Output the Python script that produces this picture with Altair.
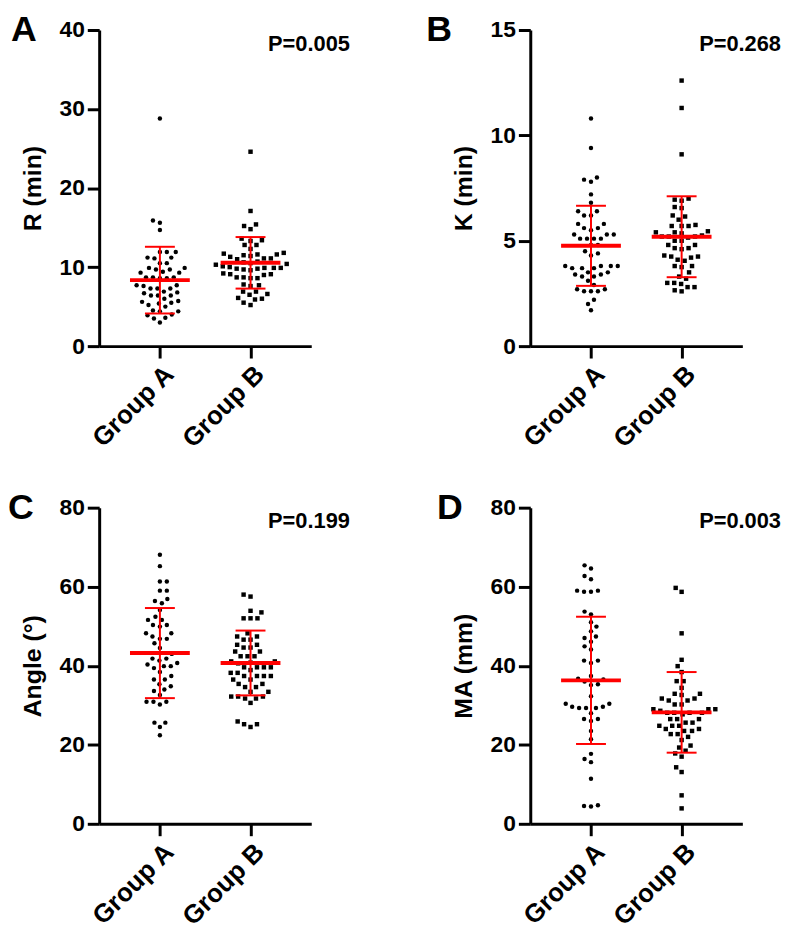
import altair as alt
import pandas as pd

# ---------------- data ----------------
groups = ["Group A", "Group B"]
panel_letters = ["A", "B", "C", "D"]
y_titles = ["R (min)", "K (min)", "Angle (°)", "MA (mm)"]
y_max = [40, 15, 80, 80]
y_ticks = [[0, 10, 20, 30, 40], [0, 5, 10, 15], [0, 20, 40, 60, 80], [0, 20, 40, 60, 80]]
p_values = ["P=0.005", "P=0.268", "P=0.199", "P=0.003"]
means = [[8.35, 10.54], [4.76, 5.19], [43.2, 40.7], [36.3, 28.2]]
sds = [[4.22, 3.26], [1.90, 1.92], [11.4, 8.2], [16.1, 10.2]]

r_a = [28.8, 15.9, 15.6, 14.7, 11.9, 11.9, 11.9, 11.2, 11.2, 11.1, 10.5, 10.5, 9.9, 9.9, 9.7, 9.7,
       9.4, 9.3, 9.3, 8.7, 8.7, 8.7, 8.6, 8.6, 7.7, 7.7, 7.6, 7.3, 7.3, 7.3, 6.9, 6.8, 6.7, 6.4,
       6.4, 6.4, 6.0, 5.7, 5.6, 5.5, 5.4, 5.2, 5.0, 4.5, 4.4, 4.4, 4.0, 3.9, 3.6, 3.5, 3.0]
r_b = [24.6, 17.1, 15.4, 15.2, 14.8, 13.6, 13.4, 13.3, 12.8, 12.8, 12.3, 11.8, 11.7, 11.6, 11.6,
       11.5, 11.4, 11.3, 11.1, 11.1, 11.0, 10.7, 10.6, 10.5, 10.4, 10.3, 10.1, 10.0, 9.9, 9.9, 9.9,
       9.8, 9.8, 9.7, 9.6, 9.2, 9.1, 9.1, 9.0, 8.7, 8.7, 8.6, 8.6, 7.8, 7.7, 7.6, 6.9, 6.9, 6.6,
       6.5, 6.1, 6.0, 5.9, 5.5, 5.2]
k_a = [10.8, 9.4, 8.0, 7.9, 7.8, 7.2, 6.8, 6.4, 6.4, 6.2, 6.2, 5.8, 5.8, 5.6, 5.5, 5.6, 5.3, 5.3,
       5.3, 5.1, 5.1, 5.1, 5.1, 4.8, 4.8, 4.5, 4.4, 4.3, 3.8, 3.8, 3.8, 3.8, 3.7, 3.7, 3.7, 3.5,
       3.5, 3.4, 3.4, 3.3, 3.3, 3.1, 2.9, 2.7, 2.7, 2.6, 2.6, 2.6, 2.2, 2.0, 1.7]
k_b = [12.6, 11.3, 9.1, 7.0, 6.95, 6.9, 6.6, 6.55, 6.2, 6.15, 6.0, 5.75, 5.7, 5.7, 5.7, 5.45, 5.4,
       5.4, 5.35, 5.25, 5.2, 5.2, 5.2, 5.15, 5.0, 5.0, 4.8, 4.8, 4.65, 4.65, 4.6, 4.3, 4.25, 4.25,
       4.2, 4.1, 4.05, 3.8, 3.8, 3.75, 3.5, 3.3, 3.2, 3.0, 3.0, 2.95, 2.8, 2.8, 2.65, 2.6]
ang_a = [68.1, 65.2, 61.3, 61.3, 59.0, 59.0, 56.9, 56.4, 55.8, 54.1, 52.4, 51.6, 51.6, 50.3, 50.3,
         49.9, 48.2, 48.2, 47.4, 46.8, 46.8, 45.7, 44.5, 43.0, 41.8, 41.8, 41.3, 40.7, 40.3, 39.9,
         39.9, 39.4, 38.4, 37.4, 36.5, 36.5, 35.3, 34.8, 34.0, 33.6, 32.6, 30.9, 30.9, 30.9, 30.2,
         25.6, 25.6, 24.5, 22.4]
ang_b = [58.0, 57.5, 53.9, 53.5, 52.0, 52.0, 52.0, 48.2, 47.4, 47.4, 46.6, 46.6, 45.3, 45.3, 44.6,
         44.6, 43.6, 43.6, 42.4, 42.4, 42.4, 41.1, 41.1, 40.6, 40.8, 39.6, 39.6, 39.6, 39.6, 38.9,
         38.2, 38.2, 37.4, 37.4, 37.4, 37.4, 36.5, 36.5, 35.4, 35.4, 34.6, 34.6, 33.4, 33.4, 32.2,
         32.2, 32.2, 31.7, 31.7, 30.6, 25.9, 25.2, 25.2, 24.5]
ma_a = [65.4, 64.6, 62.7, 61.9, 59.0, 59.0, 58.7, 58.7, 53.7, 53.0, 51.0, 49.9, 48.7, 47.4, 47.0,
        46.1, 44.9, 44.1, 41.3, 41.3, 40.7, 37.4, 36.7, 36.5, 36.0, 35.3, 35.1, 32.3, 30.4, 30.4,
        29.6, 29.6, 29.3, 29.3, 29.3, 28.0, 26.5, 26.5, 26.0, 23.5, 21.4, 17.7, 16.4, 15.6, 11.4,
        4.7, 4.5, 4.4]
ma_b = [59.7, 58.7, 48.2, 41.5, 39.9, 38.4, 36.1, 36.1, 34.4, 32.9, 32.9, 32.6, 31.7, 31.7, 31.2,
        31.2, 30.2, 30.2, 29.0, 29.0, 29.0, 28.6, 28.1, 28.1, 28.1, 28.1, 27.7, 26.5, 26.5, 26.5,
        25.6, 25.6, 24.8, 24.8, 24.8, 24.0, 24.0, 23.5, 23.5, 22.7, 22.7, 22.0, 21.2, 19.8, 19.3,
        18.5, 17.8, 17.0, 14.3, 13.1, 7.2, 3.9]

panel_data = [(r_a, r_b), (k_a, k_b), (ang_a, ang_b), (ma_a, ma_b)]

# ---------------- layout parameters ----------------
W, H = 214, 319
X_DOMAIN = [0.33, 2.67]
XPPU = W / (X_DOMAIN[1] - X_DOMAIN[0])   # pixels per x unit
FONT = "Liberation Sans"
letter_dx = [-89, -105, -92, -94]


def swarm(vals, ypp, dist=7.0, step=0.5):
    """Deterministic beeswarm layout: horizontal pixel offsets so dots don't overlap."""
    order = sorted(range(len(vals)), key=lambda i: vals[i])
    placed = []
    offs = [0.0] * len(vals)
    for n, i in enumerate(order):
        y = vals[i] * ypp
        k = 0
        chosen = 0.0
        while True:
            cands = [0.0] if k == 0 else ([k * step, -k * step] if n % 2 == 0 else [-k * step, k * step])
            ok = None
            for c in cands:
                if all((px - c) ** 2 + (py - y) ** 2 >= dist ** 2 for px, py in placed):
                    ok = c
                    break
            if ok is not None:
                chosen = ok
                break
            k += 1
        placed.append((chosen, y))
        offs[i] = chosen
    return offs


def panel(i):
    va, vb = panel_data[i]
    ypp = H / y_max[i]
    rows = []
    for g, vals in enumerate([va, vb]):
        for v, o in zip(vals, swarm(vals, ypp)):
            rows.append({"group": groups[g], "value": v, "xpos": g + 1 + o / XPPU})
    pts = pd.DataFrame(rows)
    st = pd.DataFrame({"group": groups, "xc": [1.0, 2.0], "mean": means[i], "sd": sds[i]})
    st["lo"] = st["mean"] - st["sd"]
    st["hi"] = st["mean"] + st["sd"]
    st["m1"] = st["xc"] - 0.33
    st["m2"] = st["xc"] + 0.33
    st["c1"] = st["xc"] - 0.165
    st["c2"] = st["xc"] + 0.165

    xs = alt.Scale(domain=X_DOMAIN, nice=False, zero=False)
    ys = alt.Scale(domain=[0, y_max[i]], nice=False)
    xax = alt.Axis(values=[1, 2], labelExpr="datum.value == 1 ? 'Group A' : 'Group B'",
                   labelAngle=-45, labelAlign="right", labelBaseline="top",
                   labelFontSize=26, labelPadding=3)
    yax = alt.Axis(values=y_ticks[i], titlePadding=14)

    def X(f):
        return alt.X(f, scale=xs, axis=xax, title=None)

    def Y(f):
        return alt.Y(f, scale=ys, axis=yax, title=y_titles[i])

    points = alt.Chart(pts).mark_point(filled=True, size=20, color="black", opacity=1).encode(
        x=X("xpos:Q"), y=Y("value:Q"),
        shape=alt.Shape("group:N", scale=alt.Scale(domain=groups, range=["circle", "square"]), legend=None),
    )
    sdline = alt.Chart(st).mark_rule(color="#ff0000", strokeWidth=2).encode(
        x=X("xc:Q"), y=Y("lo:Q"), y2="hi:Q")
    cap_lo = alt.Chart(st).mark_rule(color="#ff0000", strokeWidth=2).encode(
        x=X("c1:Q"), x2="c2:Q", y=Y("lo:Q"))
    cap_hi = alt.Chart(st).mark_rule(color="#ff0000", strokeWidth=2).encode(
        x=X("c1:Q"), x2="c2:Q", y=Y("hi:Q"))
    mline = alt.Chart(st).mark_rule(color="#ff0000", strokeWidth=4).encode(
        x=X("m1:Q"), x2="m2:Q", y=Y("mean:Q"))
    ptxt = alt.Chart(pd.DataFrame({"t": [p_values[i]]})).mark_text(
        align="right", baseline="alphabetic", fontSize=22, fontWeight="bold", font=FONT, color="black"
    ).encode(text="t:N", x=alt.value(253), y=alt.value(21))
    letter = alt.Chart(pd.DataFrame({"t": [panel_letters[i]]})).mark_text(
        align="left", baseline="top", fontSize=36, fontWeight="bold", font=FONT, color="black"
    ).encode(text="t:N", x=alt.value(letter_dx[i]), y=alt.value(-17))
    return alt.layer(points, sdline, cap_lo, cap_hi, mline, ptxt, letter).properties(width=W, height=H)


chart = alt.concat(
    panel(0), panel(1), panel(2), panel(3),
    columns=2, spacing={"row": 163, "column": 221}, bounds="flush",
).configure_view(stroke=None).configure_axis(
    grid=False, domainColor="black", domainWidth=3, tickColor="black", tickWidth=3, tickSize=12,
    labelFont=FONT, labelFontSize=23, labelFontWeight="bold", labelColor="black", labelPadding=3,
    titleFont=FONT, titleFontSize=25, titleFontWeight="bold", titleColor="black",
).properties(background="white", padding={"left": 0, "top": 0, "right": 0, "bottom": 0})

chart.save("out.html", embed_options={"renderer": "svg", "actions": False})
